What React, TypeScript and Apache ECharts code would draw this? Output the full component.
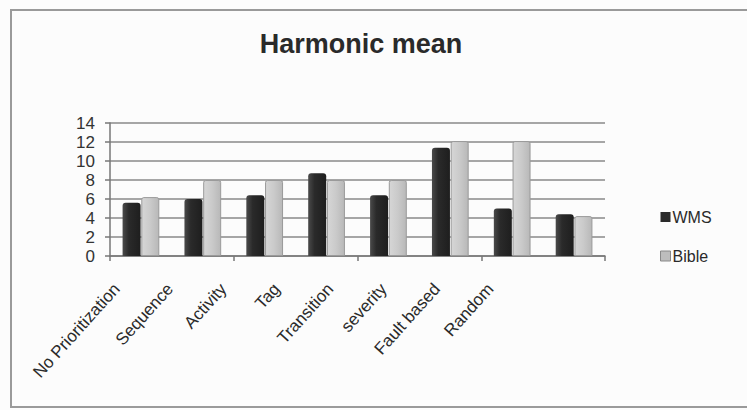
import React, { useEffect, useRef } from "react";
import * as echarts from "echarts";

const categories = [
  "No Prioritization",
  "Sequence",
  "Activity",
  "Tag",
  "Transition",
  "severity",
  "Fault based",
  "Random",
];
const wmsValues = [5.6, 6.0, 6.4, 8.7, 6.4, 11.4, 5.0, 4.4];
const bibleValues = [6.2, 8.0, 8.0, 8.0, 8.0, 12.1, 12.1, 4.2];
const yTicks = { min: 0, max: 14, interval: 2 };

const FONT = "Liberation Sans, Arial, sans-serif";

export default function App() {
  const ref = useRef<HTMLDivElement>(null);

  useEffect(() => {
    if (!ref.current) return;
    const chart = echarts.init(ref.current, null, { renderer: "svg" });

    const wmsFill = new echarts.graphic.LinearGradient(0, 0, 1, 0, [
      { offset: 0, color: "#4a4a4a" },
      { offset: 0.35, color: "#2a2a2a" },
      { offset: 1, color: "#1e1e1e" },
    ]);
    const bibleFill = new echarts.graphic.LinearGradient(0, 0, 1, 0, [
      { offset: 0, color: "#d6d6d6" },
      { offset: 0.5, color: "#cacaca" },
      { offset: 1, color: "#b8b8b8" },
    ]);

    chart.setOption({
      animation: false,
      backgroundColor: "#fcfcfc",
      title: {
        text: "Harmonic mean",
        left: 356,
        top: 25,
        textAlign: "center",
        textStyle: {
          fontFamily: FONT,
          fontSize: 27,
          fontWeight: "bold",
          color: "#2a2a2a",
        },
      },
      legend: {
        orient: "vertical",
        left: 655,
        top: 204,
        itemGap: 23,
        itemWidth: 10,
        itemHeight: 10,
        icon: "rect",
        textStyle: { fontFamily: FONT, fontSize: 16, color: "#2a2a2a", padding: [0, 0, 0, -3] },
        data: [
          { name: "WMS", itemStyle: { color: "#2a2a2a" } },
          { name: "Bible", itemStyle: { color: "#bdbdbd", borderColor: "#888", borderWidth: 1 } },
        ],
      },
      graphic: [
        {
          type: "rect",
          shape: { x: 11, y: 10, width: 760, height: 397 },
          style: { fill: "none", stroke: "#9a9a9a", lineWidth: 2 },
          silent: true,
        },
      ],
      grid: [
        { left: 110, right: 142, top: 123, bottom: 154 },
        { left: 90, width: 427, top: 123, bottom: 154 },
      ],
      xAxis: [
        {
          type: "category",
          gridIndex: 0,
          data: categories,
          axisLine: { lineStyle: { color: "#777", width: 1.5 } },
          axisTick: { show: true, length: 5, lineStyle: { color: "#777", width: 1.5 } },
          axisLabel: { show: false },
        },
        {
          type: "category",
          gridIndex: 1,
          data: categories,
          axisLine: { show: false },
          axisTick: { show: false },
          axisLabel: {
            rotate: 48,
            margin: 30,
            interval: 0,
            fontFamily: FONT,
            fontSize: 17,
            color: "#2a2a2a",
          },
        },
      ],
      yAxis: [
        {
          type: "value",
          gridIndex: 0,
          min: yTicks.min,
          max: yTicks.max,
          interval: yTicks.interval,
          axisLine: { show: true, lineStyle: { color: "#777", width: 1.5 } },
          axisTick: { show: true, length: 5, lineStyle: { color: "#777", width: 1.5 } },
          axisLabel: { fontFamily: FONT, fontSize: 17, color: "#333", margin: 15 },
          splitLine: { lineStyle: { color: "#8a8a8a", width: 1.6 } },
        },
        {
          type: "value",
          gridIndex: 1,
          show: false,
          min: 0,
          max: 14,
        },
      ],
      series: [
        {
          name: "WMS",
          type: "bar",
          xAxisIndex: 0,
          yAxisIndex: 0,
          data: wmsValues,
          barWidth: 18,
          barGap: "4%",
          itemStyle: { color: wmsFill, borderRadius: [3, 3, 0, 0] },
        },
        {
          name: "Bible",
          type: "bar",
          xAxisIndex: 0,
          yAxisIndex: 0,
          data: bibleValues,
          barWidth: 18,
          itemStyle: {
            color: bibleFill,
            borderColor: "#9a9a9a",
            borderWidth: 1,
            borderRadius: [2, 2, 0, 0],
          },
        },
      ],
    });

    return () => chart.dispose();
  }, []);

  return (
    <div
      ref={ref}
      style={{ position: "absolute", left: 0, top: 0, width: 747, height: 410 }}
    />
  );
}
